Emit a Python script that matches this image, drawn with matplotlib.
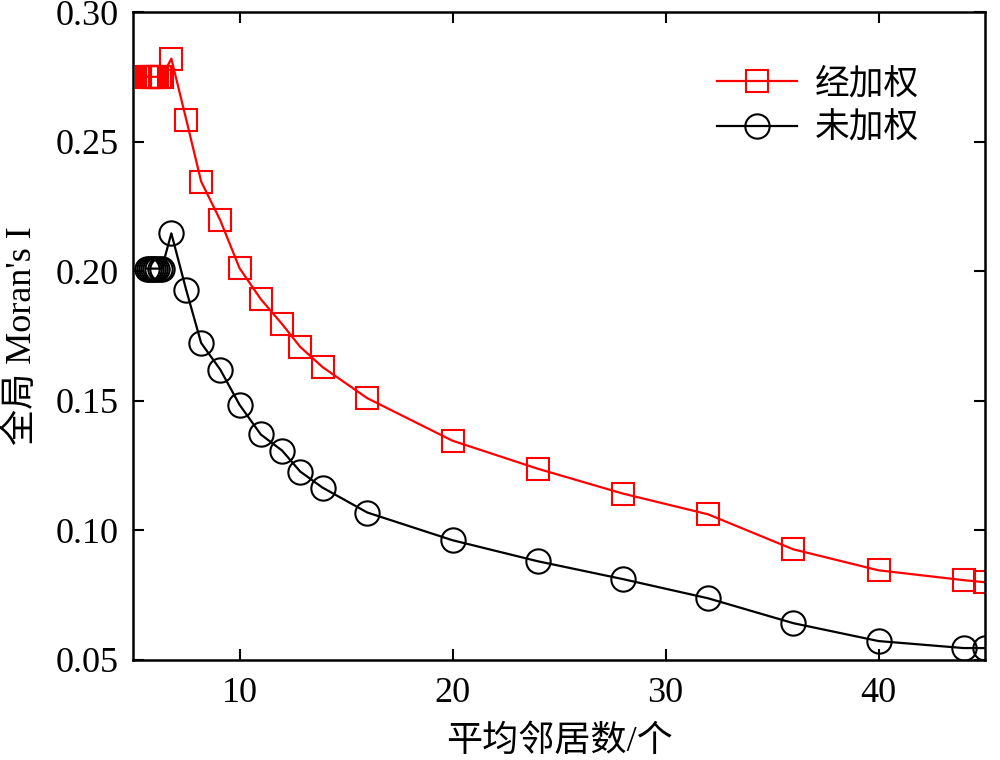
import matplotlib
matplotlib.use("Agg")
import matplotlib.pyplot as plt

plt.rcParams['font.family'] = ['Liberation Serif', 'Noto Sans CJK SC']

# data
x_vals = [5.65, 5.75, 5.85, 5.95, 6.05, 6.15, 6.25, 6.35, 6.8, 7.5, 8.2, 9.1, 10, 11, 12, 12.85,
          13.9, 16, 20, 24, 28, 32, 36, 40, 44, 45]
weighted = [0.275, 0.275, 0.275, 0.275, 0.275, 0.275, 0.275, 0.275, 0.282, 0.2585, 0.2346,
            0.2196, 0.2012, 0.1892, 0.1796, 0.1708, 0.163, 0.151, 0.1346, 0.1238, 0.1142,
            0.1062, 0.0927, 0.0846, 0.0808, 0.080]
unweighted = [0.201, 0.201, 0.201, 0.201, 0.201, 0.201, 0.201, 0.201, 0.2146, 0.1927, 0.1723,
              0.162, 0.1485, 0.137, 0.1308, 0.1227, 0.1165, 0.1069, 0.0962, 0.0881, 0.0812,
              0.0738, 0.0642, 0.0573, 0.0546, 0.0546]
x_ticks = [10, 20, 30, 40]
y_ticks = [0.05, 0.10, 0.15, 0.20, 0.25, 0.30]
y_ticklabels = ['0.05', '0.10', '0.15', '0.20', '0.25', '0.30']
labels = ['经加权', '未加权']

fig = plt.figure(figsize=(10, 7.6), dpi=100)
ax = fig.add_axes([0.133, 0.1316, 0.852, 0.8526])

ax.plot(x_vals, weighted, color='#ff0000', lw=1.6, marker='s', ms=15.5,
        mfc='none', mec='#ff0000', mew=1.5, label=labels[0])
ax.plot(x_vals, unweighted, color='black', lw=1.6, marker='o', ms=17.5,
        mfc='none', mec='black', mew=1.5, label=labels[1])

ax.set_xlim(5, 45)
ax.set_ylim(0.05, 0.30)
ax.set_xticks(x_ticks)
ax.set_yticks(y_ticks)
ax.set_yticklabels(y_ticklabels)
for sp in ax.spines.values():
    sp.set_linewidth(1.8)
ax.tick_params(direction='in', length=8, width=1.5, top=True, right=True,
               labelsize=26, pad=12)
ax.tick_params(axis='y', pad=10)

ax.set_xlabel('平均邻居数/个', fontsize=26, labelpad=11)
ax.set_ylabel("全局 Moran's I", fontsize=26, labelpad=12)

leg = ax.legend(loc='upper left', bbox_to_anchor=(0.700, 0.933),
                bbox_transform=fig.transFigure, frameon=False, fontsize=25,
                handlelength=2.3, handletextpad=0.5, borderpad=0, labelspacing=0.33)

fig.savefig('out.png', dpi=100)
